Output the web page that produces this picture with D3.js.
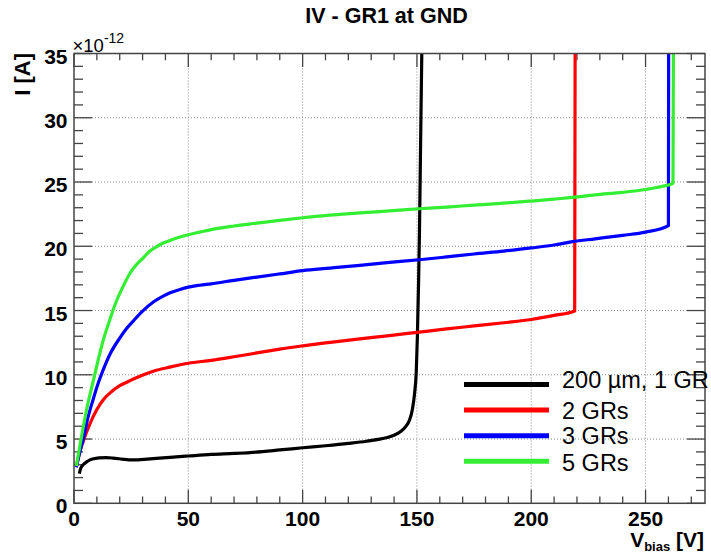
<!DOCTYPE html>
<html><head><meta charset="utf-8">
<script src="https://cdn.jsdelivr.net/npm/d3@7"></script>
<style>body{margin:0;background:#fff;} svg{display:block;font-family:"Liberation Sans",Arial,Helvetica,sans-serif;}</style>
</head><body>
<svg id="c" width="711" height="553"></svg>
<script>
// ---- data ----
const seriesNames = ["200 µm, 1 GR", "2 GRs", "3 GRs", "5 GRs"];
const seriesColors = ["#000000", "#ff0000", "#0000ff", "#33ee33"];
const black = [[2.3,2.3],[3,2.75],[4,3.0],[5.5,3.22],[7,3.38],[9,3.48],[11,3.54],[14,3.55],[17,3.52],[21,3.44],[24,3.38],[28,3.38],[32,3.44],[36,3.5],[42,3.58],[50,3.68],[60,3.8],[70,3.88],[77,3.95],[90,4.15],[100,4.32],[110,4.48],[120,4.66],[128,4.83],[133,4.97],[137,5.12],[140,5.3],[143,5.6],[145,5.95],[146.8,6.5],[148,7.3],[149,8.6],[149.7,10.2],[150.2,13],[150.7,17],[151.1,21],[151.6,28],[152.2,36]];
const red = [[1,2.85],[2,3.6],[3,4.3],[4,4.8],[5,5.3],[7,6.2],[10,7.3],[13,8.1],[16.5,8.7],[20,9.15],[24,9.5],[27,9.75],[31,10.05],[35,10.3],[42,10.6],[50,10.9],[60,11.12],[70,11.4],[80,11.7],[90,12.0],[100,12.25],[112,12.52],[125,12.8],[138,13.05],[150,13.3],[162,13.55],[175,13.8],[188,14.05],[200,14.3],[210,14.62],[219,14.97],[219.2,36]];
const blue = [[1,2.8],[2,3.6],[3,4.3],[4,4.95],[6,6.6],[8.4,8.1],[10.5,9.3],[12.8,10.4],[16,11.7],[20,12.85],[23,13.6],[26,14.2],[30,14.95],[35,15.7],[39,16.12],[42,16.38],[46,16.62],[50,16.82],[55,16.97],[60,17.08],[70,17.35],[80,17.6],[90,17.85],[100,18.1],[112,18.3],[125,18.52],[138,18.75],[151,18.95],[163,19.17],[175,19.4],[188,19.62],[200,19.87],[210,20.1],[218,20.36],[228,20.58],[240,20.85],[250,21.1],[260,21.6],[260.1,36]];
const green = [[1,2.9],[2,3.9],[3,4.9],[4,5.9],[6,7.7],[8.4,9.5],[10.5,11.1],[12.8,12.7],[15.7,14.3],[18.7,15.8],[21,16.7],[24.5,17.9],[27,18.5],[30.3,19.1],[33,19.6],[36,19.95],[39,20.25],[42,20.45],[46,20.7],[50,20.9],[55,21.1],[60,21.3],[70,21.58],[80,21.8],[90,22.02],[100,22.22],[112,22.42],[125,22.6],[138,22.75],[151,22.92],[163,23.05],[175,23.2],[188,23.35],[200,23.52],[210,23.67],[218,23.8],[228,24.0],[240,24.2],[250,24.42],[257,24.65],[262,24.9],[262.2,36]];
const allSeries = [black, red, blue, green];
const xTicks = [0, 50, 100, 150, 200, 250];
const yTicks = [0, 5, 10, 15, 20, 25, 30, 35];
const titleText = "IV - GR1 at GND";

// ---- layout ----
const svg = d3.select("#c");
const L = 74, R = 705, T = 53.5, B = 503.3;
const x = d3.scaleLinear().domain([0, 276]).range([L, R]);
const y = d3.scaleLinear().domain([0, 35]).range([B, T]);

svg.append("defs").html(`
 <clipPath id="clip"><rect x="${L}" y="${T}" width="${R-L}" height="${B-T}"/></clipPath>
 <filter id="sh" x="-20%" y="-200%" width="140%" height="500%"><feGaussianBlur stdDeviation="2"/></filter>`);

// gridlines
const grid = svg.append("g").attr("stroke", "#888").attr("stroke-width", 1).attr("stroke-dasharray", "1,2");
xTicks.filter(v => v > 0).forEach(v => grid.append("line").attr("x1", x(v)).attr("x2", x(v)).attr("y1", T).attr("y2", B));
yTicks.filter(v => v > 0 && v < 35).forEach(v => grid.append("line").attr("x1", L).attr("x2", R).attr("y1", y(v)).attr("y2", y(v)));

// axes ticks (inside, ROOT style)
const ax = svg.append("g").attr("stroke", "#444").attr("stroke-width", 1.3);
d3.range(0, 276, 10).forEach(v => {
  const len = v % 50 === 0 ? 13.5 : 6.8;
  ax.append("line").attr("x1", x(v)).attr("x2", x(v)).attr("y1", B).attr("y2", B - len);
  ax.append("line").attr("x1", x(v)).attr("x2", x(v)).attr("y1", T).attr("y2", T + len);
});
d3.range(0, 36, 1).forEach(v => {
  const len = v % 5 === 0 ? 18 : 9;
  ax.append("line").attr("x1", L).attr("x2", L + len).attr("y1", y(v)).attr("y2", y(v));
  ax.append("line").attr("x1", R).attr("x2", R - len).attr("y1", y(v)).attr("y2", y(v));
});

// curves
const line = d3.line().x(d => x(d[0])).y(d => y(d[1])).curve(d3.curveMonotoneX);
const cg = svg.append("g").attr("clip-path", "url(#clip)");
allSeries.forEach((s, i) => {
  cg.append("path").attr("d", line(s)).attr("fill", "none")
    .attr("stroke", seriesColors[i]).attr("stroke-width", 3.2).attr("stroke-linejoin", "round");
});

// frame
svg.append("rect").attr("x", L).attr("y", T).attr("width", R - L).attr("height", B - T)
  .attr("fill", "none").attr("stroke", "#444").attr("stroke-width", 1.5);

// tick labels
const tl = svg.append("g").attr("font-weight", "bold").attr("font-size", 21).attr("fill", "#000");
xTicks.forEach(v => tl.append("text").attr("x", x(v)).attr("y", 526).attr("text-anchor", "middle").text(v));
yTicks.forEach(v => tl.append("text").attr("x", 67.5).attr("y", y(v) + 10).attr("text-anchor", "end").text(v));

// exponent
const ex = svg.append("text").attr("x", 72.5).attr("y", 51.5).attr("font-size", 18.5).attr("fill", "#000");
ex.append("tspan").text("×10");
ex.append("tspan").attr("font-size", 14).attr("dy", -9).text("-12");

// title
svg.append("text").attr("x", 386.5).attr("y", 23.3).attr("text-anchor", "middle")
  .attr("font-weight", "bold").attr("font-size", 21.5).text(titleText);

// axis titles
svg.append("text").attr("transform", "translate(29.5,53) rotate(-90)").attr("text-anchor", "end")
  .attr("font-weight", "bold").attr("font-size", 22).text("I [A]");
const xt = svg.append("text").attr("x", 704).attr("y", 547).attr("text-anchor", "end")
  .attr("font-weight", "bold").attr("font-size", 21);
xt.append("tspan").text("V");
xt.append("tspan").attr("font-size", 13).attr("dy", 4).text("bias");
xt.append("tspan").attr("dy", -4).text(" [V]");

// legend
const lg = svg.append("g");
seriesNames.forEach((n, i) => {
  const ly = 384.5 + i * 25.6;
  lg.append("line").attr("x1", 464).attr("x2", 549).attr("y1", ly + 3).attr("y2", ly + 3)
    .attr("stroke", "#999").attr("stroke-width", 5).attr("filter", "url(#sh)").attr("opacity", 0.7);
  lg.append("line").attr("x1", 464).attr("x2", 549).attr("y1", ly).attr("y2", ly)
    .attr("stroke", seriesColors[i]).attr("stroke-width", 5);
  lg.append("text").attr("x", 562).attr("y", ly + (i === 0 ? 3.5 : 8.5 + (i === 3 ? 1.5 : 0)))
    .attr("font-size", 23.5).attr("fill", "#000").text(n);
});
</script>
</body></html>
